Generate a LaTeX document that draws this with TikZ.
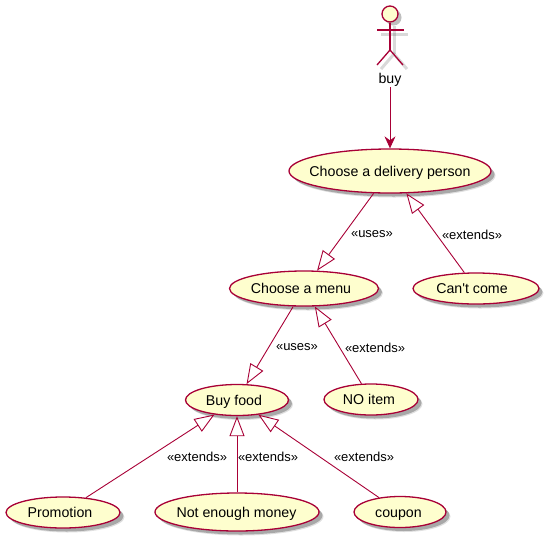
\documentclass[tikz,border=0pt]{standalone}
\usepackage{fontspec}
\setmainfont{Liberation Sans}
\usetikzlibrary{arrows.meta}
\usetikzlibrary{shapes.geometric}
\usetikzlibrary{shadows}
\definecolor{Border}{HTML}{A80036}
\definecolor{Usecase}{HTML}{FEFECE}
\tikzset{
  usecase/.style={ellipse, draw=Border, fill=Usecase, line width=1.3pt, inner sep=0pt,
    font=\fontsize{14.2}{16}\selectfont, text=black, text height=12pt, text depth=2pt,
    drop shadow={shadow xshift=4.5pt, shadow yshift=-4.5pt, opacity=0.12, fill=black},
    drop shadow={shadow xshift=3.5pt, shadow yshift=-3.5pt, opacity=0.25, fill=black}},
  rel/.style={font=\fontsize{13}{15}\selectfont, text=black},
  inherit/.style={draw=Border, line width=0.9pt, {Triangle[open, length=20pt, width=15pt, fill=white]}-},
  actorline/.style={draw=Border, line width=1.3pt},
  actorshade/.style={draw=black, opacity=0.15, line width=3pt},
}
% text of a use case, moved left by #1
\def\uc#1#2{\makebox[0pt]{\hspace*{-2\dimexpr#1pt\relax}#2}}
\begin{document}
\begin{tikzpicture}[x=1pt, y=-1pt]
\useasboundingbox (0,0) rectangle (549,542);

% Actor
\coordinate (neck) at (390,22);
\coordinate (hip) at (390,50);
\coordinate (arml) at (377,30);
\coordinate (armr) at (404,30);
\coordinate (legl) at (377,65);
\coordinate (legr) at (403,65);

\draw[actorshade] ([shift={(4,4)}]neck)--([shift={(4,4)}]hip);
\draw[actorshade] ([shift={(4,4)}]arml)--([shift={(4,4)}]armr);
\draw[actorshade] ([shift={(4,4)}]legl)--([shift={(4,4)}]hip)--([shift={(4,4)}]legr);

\node[circle, actorline, fill=Usecase, minimum size=16pt, inner sep=0pt,
  drop shadow={shadow xshift=3.5pt, shadow yshift=-3.5pt, opacity=0.25, fill=black}] (head) at (390,14) {};
\draw[actorline] (head)--(hip);
\draw[actorline] (arml)--(armr);
\draw[actorline] (legl)--(hip)--(legr);
\node[font=\fontsize{14.2}{16}\selectfont, inner sep=1pt] (buy) at (390,79.5) {buy};

% Use cases
\node[usecase, minimum width=202pt, minimum height=44pt] (delivery) at (390,171) {\uc{0}{Choose a delivery person}};
\node[usecase, minimum width=149pt, minimum height=35pt] (menu) at (304,288.5) {\uc{3}{Choose a menu}};
\node[usecase, minimum width=126pt, minimum height=31pt] (cantcome) at (476,288.5) {\uc{4}{Can\textquotesingle t come}};
\node[usecase, minimum width=103pt, minimum height=31pt] (food) at (237,400) {\uc{3}{Buy food}};
\node[usecase, minimum width=94pt, minimum height=31pt] (noitem) at (371,399.5) {\uc{2}{NO item}};
\node[usecase, minimum width=114pt, minimum height=31pt] (promotion) at (63,512.5) {\uc{3}{Promotion}};
\node[usecase, minimum width=164pt, minimum height=38pt] (money) at (237,512) {\uc{0.5}{Not enough money}};
\node[usecase, minimum width=92pt, minimum height=31pt] (coupon) at (400,512) {\uc{1.5}{coupon}};

% Connectors
\draw[draw=Border, line width=0.9pt, -{Stealth[length=12pt, width=11pt, inset=4pt]}] (buy)--(delivery);
\draw[inherit] (menu)--(delivery);
\draw[inherit] (delivery)--(cantcome);
\draw[inherit] (food)--(menu);
\draw[inherit] (menu)--(noitem);
\draw[inherit] (food)--(promotion);
\draw[inherit] (food)--(money);
\draw[inherit] (food)--(coupon);

% Labels
\node[rel] (usesa) at (372,234.5) {«uses»};
\node[rel] (extendsa) at (472,234.5) {«extends»};
\node[rel] (usesb) at (297,347.5) {«uses»};
\node[rel] (extendsb) at (375,347.5) {«extends»};
\node[rel] (extendsc) at (197,456.5) {«extends»};
\node[rel] (extendsd) at (268,456.5) {«extends»};
\node[rel] (extendse) at (364,456.5) {«extends»};
\end{tikzpicture}
\end{document}
